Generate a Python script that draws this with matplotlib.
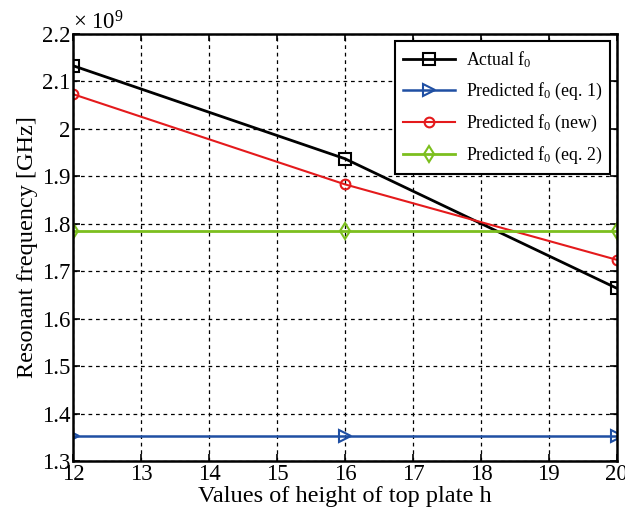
import numpy as np
import matplotlib
matplotlib.use("Agg")
import matplotlib.pyplot as plt
from matplotlib.ticker import ScalarFormatter

# =====================================================
# data, Hz
# =====================================================
h = [12, 16, 20]
actual_f0 = [2.133e9, 1.937e9, 1.664e9]
pred_eq1 = [1.352e9, 1.352e9, 1.352e9]
pred_new = [2.073e9, 1.883e9, 1.724e9]
pred_eq2 = [1.784e9, 1.784e9, 1.784e9]

x_ticks = [12, 13, 14, 15, 16, 17, 18, 19, 20]
y_ticks = [1.3e9, 1.4e9, 1.5e9, 1.6e9, 1.7e9, 1.8e9, 1.9e9, 2.0e9, 2.1e9, 2.2e9]


class MatlabFormatter(ScalarFormatter):
    # MATLAB style: "2" instead of "2.0", offset "× 10^9"
    def __call__(self, x, pos=None):
        return f"{x / 10 ** self.orderOfMagnitude:g}"

    def get_offset(self):
        return rf"$\times\ 10^{{{self.orderOfMagnitude}}}$"


# =====================================================
# style
# =====================================================
plt.rcParams["font.family"] = ["Liberation Serif", "DejaVu Serif"]
plt.rcParams["mathtext.fontset"] = "custom"
plt.rcParams["mathtext.rm"] = "Liberation Serif"
plt.rcParams["mathtext.it"] = "Liberation Serif:italic"

fig = plt.figure(figsize=(6.25, 5.14), dpi=100)
ax = fig.add_axes([0.117, 0.103, 0.870, 0.831])

ax.plot(h, actual_f0, color="black", lw=2, marker="s", ms=8, mfc="none", mew=1.5,
        label=r"Actual f$_0$")
ax.plot(h, pred_eq1, color="#1f4fa3", lw=1.8, marker=">", ms=8, mfc="none", mew=1.5,
        label=r"Predicted f$_0$ (eq. 1)")
ax.plot(h, pred_new, color="#e41a1c", lw=1.5, marker="o", ms=7, mfc="none", mew=1.5,
        label=r"Predicted f$_0$ (new)")
ax.plot(h, pred_eq2, color="#7cbf1e", lw=2, marker="d", ms=8, mfc="none", mew=1.5,
        label=r"Predicted f$_0$ (eq. 2)")

ax.set_xlim(12, 20)
ax.set_ylim(1.3e9, 2.2e9)
ax.set_xticks(x_ticks)
ax.set_yticks(y_ticks)

fmt = MatlabFormatter(useMathText=True)
fmt.set_powerlimits((0, 0))
ax.yaxis.set_major_formatter(fmt)
ax.yaxis.get_offset_text().set_fontsize(16.5)

ax.grid(True, color="black", ls=(0, (3, 3)), lw=0.9)
ax.tick_params(direction="in", top=True, right=True, labelsize=16.5, length=5, width=1.2, pad=2)
for sp in ax.spines.values():
    sp.set_linewidth(1.8)

ax.set_xlabel("Values of height of top plate h", fontsize=17.5, labelpad=1)
ax.set_ylabel("Resonant frequency [GHz]", fontsize=17.5, labelpad=3)

leg = ax.legend(loc="upper right", fontsize=12.8, fancybox=False, framealpha=1,
                edgecolor="black", borderaxespad=0.4, handlelength=2.9, labelspacing=0.62,
                borderpad=0.45, handletextpad=0.6)
leg.get_frame().set_linewidth(1.5)

fig.savefig("out.png", dpi=100)
